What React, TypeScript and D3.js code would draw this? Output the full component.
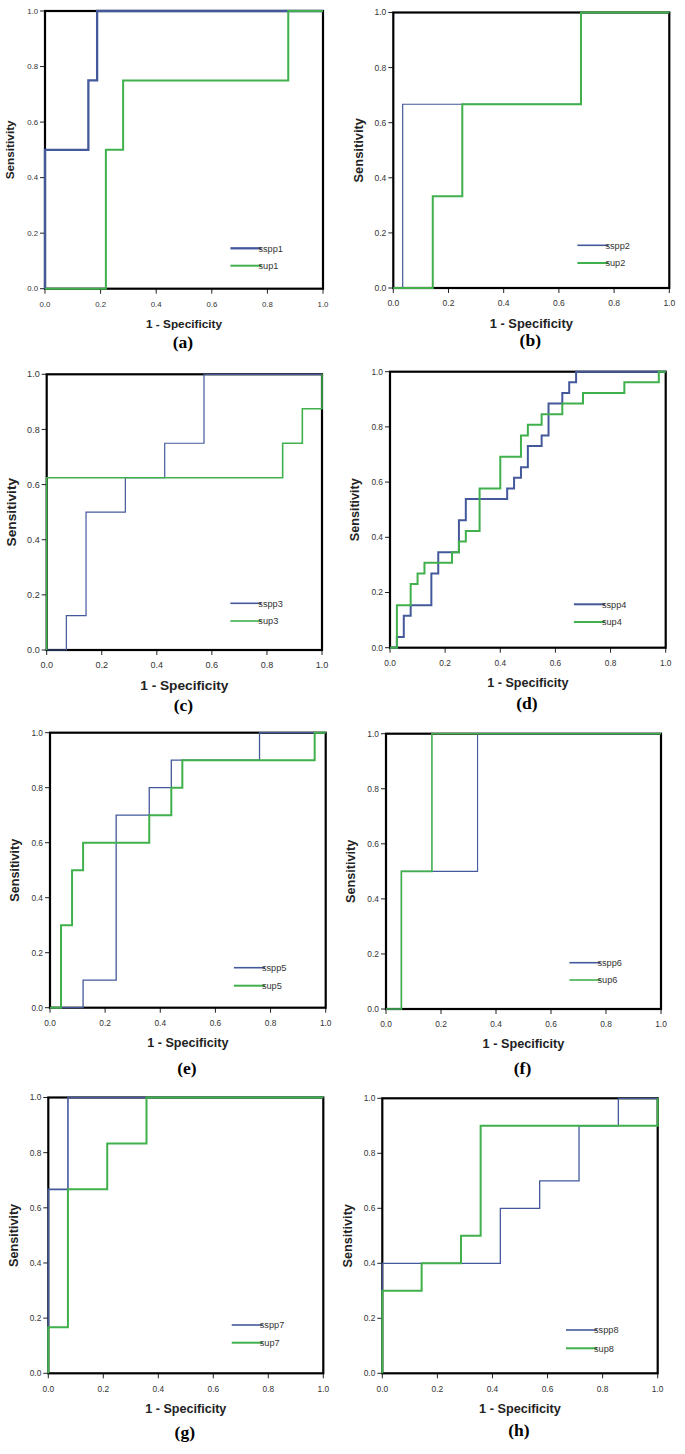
import React from "react";
import * as d3 from "d3";

type Pt = [number, number];

// ---------- data (corner points of each ROC staircase: [1 - specificity, sensitivity]) ----------
const tickValues = [0, 0.2, 0.4, 0.6, 0.8, 1.0];
const captions = ["(a)", "(b)", "(c)", "(d)", "(e)", "(f)", "(g)", "(h)"];
const blueNames = ["sspp1", "sspp2", "sspp3", "sspp4", "sspp5", "sspp6", "sspp7", "sspp8"];
const greenNames = ["sup1", "sup2", "sup3", "sup4", "sup5", "sup6", "sup7", "sup8"];

const sspp1: Pt[] = [[0, 0], [0, 0.5], [0.156, 0.5], [0.156, 0.75], [0.1875, 0.75], [0.1875, 1], [1, 1]];
const sup1: Pt[] = [[0, 0], [0.219, 0], [0.219, 0.5], [0.281, 0.5], [0.281, 0.75], [0.875, 0.75], [0.875, 1], [1, 1]];

const sspp2: Pt[] = [[0, 0], [0.034, 0], [0.034, 0.667], [0.68, 0.667], [0.68, 1], [1, 1]];
const sup2: Pt[] = [[0, 0], [0.143, 0], [0.143, 0.333], [0.25, 0.333], [0.25, 0.667], [0.68, 0.667], [0.68, 1], [1, 1]];

const sspp3: Pt[] = [[0, 0], [0.0714, 0], [0.0714, 0.125], [0.1429, 0.125], [0.1429, 0.5], [0.2857, 0.5], [0.2857, 0.625], [0.4286, 0.625], [0.4286, 0.75], [0.5714, 0.75], [0.5714, 1], [1, 1]];
const sup3: Pt[] = [[0, 0], [0, 0.625], [0.8571, 0.625], [0.8571, 0.75], [0.9286, 0.75], [0.9286, 0.875], [1, 0.875], [1, 1]];

const sspp4: Pt[] = [
  [0, 0], [0.025, 0], [0.025, 0.0385], [0.05, 0.0385], [0.05, 0.1154], [0.075, 0.1154], [0.075, 0.1538],
  [0.15, 0.1538], [0.15, 0.2692], [0.175, 0.2692], [0.175, 0.3462], [0.25, 0.3462], [0.25, 0.4615],
  [0.275, 0.4615], [0.275, 0.5385], [0.425, 0.5385], [0.425, 0.5769], [0.45, 0.5769], [0.45, 0.6154],
  [0.475, 0.6154], [0.475, 0.6538], [0.5, 0.6538], [0.5, 0.7308], [0.55, 0.7308], [0.55, 0.7692],
  [0.575, 0.7692], [0.575, 0.8846], [0.625, 0.8846], [0.625, 0.9231], [0.65, 0.9231], [0.65, 0.9615],
  [0.675, 0.9615], [0.675, 1], [1, 1],
];
const sup4: Pt[] = [
  [0, 0], [0.025, 0], [0.025, 0.1538], [0.075, 0.1538], [0.075, 0.2308], [0.1, 0.2308], [0.1, 0.2692],
  [0.125, 0.2692], [0.125, 0.3077], [0.225, 0.3077], [0.225, 0.3462], [0.25, 0.3462], [0.25, 0.3846],
  [0.275, 0.3846], [0.275, 0.4231], [0.325, 0.4231], [0.325, 0.5769], [0.4, 0.5769], [0.4, 0.6923],
  [0.475, 0.6923], [0.475, 0.7692], [0.5, 0.7692], [0.5, 0.8077], [0.55, 0.8077], [0.55, 0.8462],
  [0.625, 0.8462], [0.625, 0.8846], [0.7, 0.8846], [0.7, 0.9231], [0.85, 0.9231], [0.85, 0.9615],
  [0.975, 0.9615], [0.975, 1], [1, 1],
];

const sspp5: Pt[] = [[0, 0], [0.12, 0], [0.12, 0.1], [0.24, 0.1], [0.24, 0.7], [0.36, 0.7], [0.36, 0.8], [0.44, 0.8], [0.44, 0.9], [0.76, 0.9], [0.76, 1], [1, 1]];
const sup5: Pt[] = [[0, 0], [0.04, 0], [0.04, 0.3], [0.08, 0.3], [0.08, 0.5], [0.12, 0.5], [0.12, 0.6], [0.36, 0.6], [0.36, 0.7], [0.44, 0.7], [0.44, 0.8], [0.48, 0.8], [0.48, 0.9], [0.96, 0.9], [0.96, 1], [1, 1]];

const sspp6: Pt[] = [[0, 0], [0.056, 0], [0.056, 0.5], [0.333, 0.5], [0.333, 1], [1, 1]];
const sup6: Pt[] = [[0, 0], [0.056, 0], [0.056, 0.5], [0.167, 0.5], [0.167, 1], [1, 1]];

const sspp7: Pt[] = [[0, 0], [0, 0.667], [0.0714, 0.667], [0.0714, 1], [1, 1]];
const sup7: Pt[] = [[0, 0], [0, 0.167], [0.0714, 0.167], [0.0714, 0.667], [0.2143, 0.667], [0.2143, 0.833], [0.3571, 0.833], [0.3571, 1], [1, 1]];

const sspp8: Pt[] = [[0, 0], [0, 0.4], [0.4286, 0.4], [0.4286, 0.6], [0.5714, 0.6], [0.5714, 0.7], [0.7143, 0.7], [0.7143, 0.9], [0.8571, 0.9], [0.8571, 1], [1, 1]];
const sup8: Pt[] = [[0, 0], [0, 0.3], [0.1429, 0.3], [0.1429, 0.4], [0.2857, 0.4], [0.2857, 0.5], [0.3571, 0.5], [0.3571, 0.9], [1, 0.9], [1, 1]];

const blueSeries = [sspp1, sspp2, sspp3, sspp4, sspp5, sspp6, sspp7, sspp8];
const greenSeries = [sup1, sup2, sup3, sup4, sup5, sup6, sup7, sup8];

// ---------- layout ----------
const layouts = [
  { left: 45, top: 11, w: 278, h: 277.7, bw: 2.3, gw: 2, fs: 11.8, leg: [40.4, 23], cap: 53.3 },
  { left: 393.3, top: 12.5, w: 276, h: 275.5, bw: 1.2, gw: 2, fs: 12.9, leg: [42.7, 25], cap: 52 },
  { left: 46.7, top: 374.3, w: 275.3, h: 275.7, bw: 1.2, gw: 1.6, fs: 13.7, leg: [46.7, 29], cap: 55 },
  { left: 390, top: 371.7, w: 275.7, h: 276, bw: 2, gw: 2, fs: 12.6, leg: [43.4, 25.7], cap: 55.3 },
  { left: 50, top: 732.7, w: 275.7, h: 275, bw: 1.3, gw: 2, fs: 12.6, leg: [40, 22], cap: 60 },
  { left: 386, top: 733.7, w: 275, h: 275.3, bw: 1.1, gw: 1.6, fs: 12.7, leg: [46.3, 29], cap: 59 },
  { left: 48.3, top: 1097.5, w: 275, h: 275.8, bw: 1.6, gw: 2, fs: 12.6, leg: [48.3, 30.6], cap: 58.4 },
  { left: 382.3, top: 1098.3, w: 275.4, h: 275, bw: 1.3, gw: 2, fs: 12.7, leg: [43.3, 25], cap: 56.7 },
];

const BLUE = "#44599c";
const GREEN = "#40b04c";
const SANS = "'Liberation Sans', Arial, sans-serif";
const SERIF = "'Liberation Serif', 'Times New Roman', serif";
const fmt = d3.format(".1f");

function Panel({ i }: { i: number }) {
  const L = layouts[i];
  const bottom = L.top + L.h;
  const x = d3.scaleLinear().domain([0, 1]).range([L.left, L.left + L.w]);
  const y = d3.scaleLinear().domain([0, 1]).range([bottom, L.top]);
  const line = d3
    .line<Pt>()
    .x((d) => x(d[0]))
    .y((d) => y(d[1]));
  const tfs = 8.4 * (L.fs / 12.7);
  const legX = x(0.667);
  const legLen = 31;
  const cx = L.left + L.w / 2;
  const cy = L.top + L.h / 2;
  return (
    <g>
      {/* ticks */}
      {tickValues.map((t) => (
        <g key={"y" + t}>
          <line x1={x(0) - 5} x2={x(0)} y1={y(t)} y2={y(t)} stroke="#222" strokeWidth={1} />
          <text x={x(0) - 7} y={y(t)} dy="0.35em" textAnchor="end" fontFamily={SANS} fontSize={tfs} fill="#333">
            {fmt(t)}
          </text>
        </g>
      ))}
      {tickValues.map((t) => (
        <g key={"x" + t}>
          <line x1={x(t)} x2={x(t)} y1={bottom} y2={bottom + 5} stroke="#222" strokeWidth={1} />
          <text x={x(t)} y={bottom + 15.3} dy="0.35em" textAnchor="middle" fontFamily={SANS} fontSize={tfs} fill="#333">
            {fmt(t)}
          </text>
        </g>
      ))}
      {/* frame */}
      <rect x={L.left} y={L.top} width={L.w} height={L.h} fill="none" stroke="#000" strokeWidth={2.2} />
      {/* curves */}
      <path d={line(blueSeries[i]) || ""} fill="none" stroke={BLUE} strokeWidth={L.bw} />
      <path d={line(greenSeries[i]) || ""} fill="none" stroke={GREEN} strokeWidth={L.gw} />
      {/* legend */}
      <line x1={legX} x2={legX + legLen} y1={bottom - L.leg[0]} y2={bottom - L.leg[0]} stroke={BLUE} strokeWidth={Math.max(L.bw, 1.6)} />
      <text x={legX + legLen - 3} y={bottom - L.leg[0]} dy="0.35em" fontFamily={SANS} fontSize={9.2} fill="#333">
        {blueNames[i]}
      </text>
      <line x1={legX} x2={legX + legLen} y1={bottom - L.leg[1]} y2={bottom - L.leg[1]} stroke={GREEN} strokeWidth={Math.max(L.gw, 1.6)} />
      <text x={legX + legLen - 3} y={bottom - L.leg[1]} dy="0.35em" fontFamily={SANS} fontSize={9.2} fill="#333">
        {greenNames[i]}
      </text>
      {/* axis titles */}
      <text x={cx} y={bottom + 35} dy="0.35em" textAnchor="middle" fontFamily={SANS} fontWeight="bold" fontSize={L.fs} fill="#222">
        1 - Specificity
      </text>
      <text
        transform={`translate(${L.left - 35},${cy}) rotate(-90)`}
        dy="0.35em"
        textAnchor="middle"
        fontFamily={SANS}
        fontWeight="bold"
        fontSize={L.fs}
        fill="#222"
      >
        Sensitivity
      </text>
      <text x={cx - 1} y={bottom + L.cap} dy="0.35em" textAnchor="middle" fontFamily={SERIF} fontWeight="bold" fontSize={17.5} fill="#000">
        {captions[i]}
      </text>
    </g>
  );
}

export default function App() {
  return (
    <svg
      width={685}
      height={1454}
      viewBox="0 0 685 1454"
      style={{ position: "absolute", left: 0, top: 0, background: "#fff" }}
    >
      <rect x={0} y={0} width={685} height={1454} fill="#fff" />
      {layouts.map((_, i) => (
        <Panel key={i} i={i} />
      ))}
    </svg>
  );
}
